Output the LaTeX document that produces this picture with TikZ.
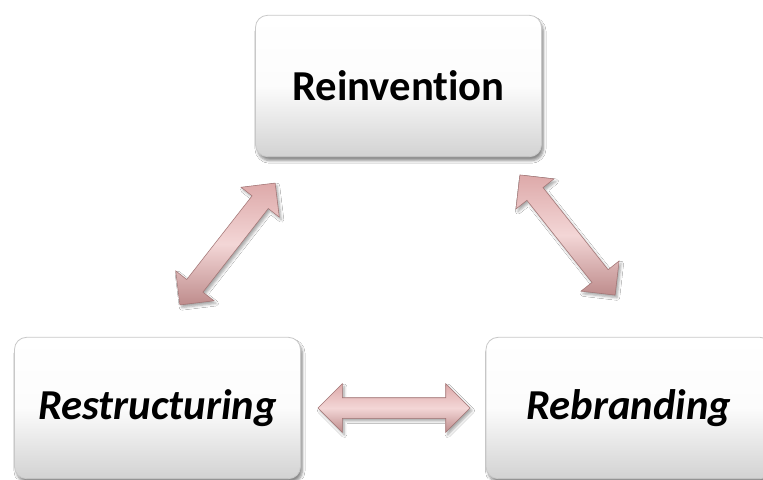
\documentclass[tikz,border=0pt]{standalone}
\usepackage{fontspec}
\setmainfont{Carlito}[Ligatures=NoCommon]
\usetikzlibrary{shapes.arrows,shadows.blur}
\definecolor{boxedge}{HTML}{C8C8C8}
\definecolor{boxbottom}{HTML}{D2D2D2}
\definecolor{arrowlight}{HTML}{F3D6D6}
\definecolor{arrowtop}{HTML}{DDA9A9}
\definecolor{arrowdark}{HTML}{BE8C8C}
\definecolor{arrowedge}{HTML}{A27474}
\tikzset{
  stagebox/.style={rectangle, rounded corners=9pt, draw=boxedge, line width=0.6pt,
    top color=white, bottom color=boxbottom, middle color=white!93!boxbottom,
    minimum width=214.5pt, minimum height=106pt, inner sep=0pt,
    font=\bfseries\fontsize{32}{36}\selectfont,
    blur shadow={shadow xshift=1.5pt, shadow yshift=-3pt, shadow blur steps=6, shadow opacity=45}},
  linkarrow/.style n args={2}{double arrow, draw=arrowedge, line width=0.4pt,
    rotate=#2, shading angle=#2,
    top color=arrowtop, bottom color=arrowdark, middle color=arrowlight,
    minimum height=#1, inner xsep=0pt, inner ysep=7.5pt,
    double arrow head extend=10.5pt, double arrow head indent=0pt,
    blur shadow={shadow xshift=1.5pt, shadow yshift=-2pt, shadow blur steps=4, shadow opacity=35}},
}
\begin{document}
\begin{tikzpicture}[x=0.75pt,y=-0.75pt]
  \useasboundingbox (0,0) rectangle (763,479);
  \clip (0,0) rectangle (763,479);
  \fill[white] (0,0) rectangle (763,479);

  % the three stages
  \node[stagebox] (reinv) at (398.5,86) {Reinvention};
  \node[stagebox] (restr) at (157.5,408) {\itshape Restructuring};
  \node[stagebox] (rebrand) at (629,408) {\itshape Rebranding};

  % two-way links between the stages
  \node[linkarrow={116pt}{52}] (lr) at (227.5,244) {};
  \node[linkarrow={115pt}{-51.6}] (rr) at (567.5,235) {};
  \node[linkarrow={114pt}{0}] (hr) at (394,408) {};
\end{tikzpicture}
\end{document}
